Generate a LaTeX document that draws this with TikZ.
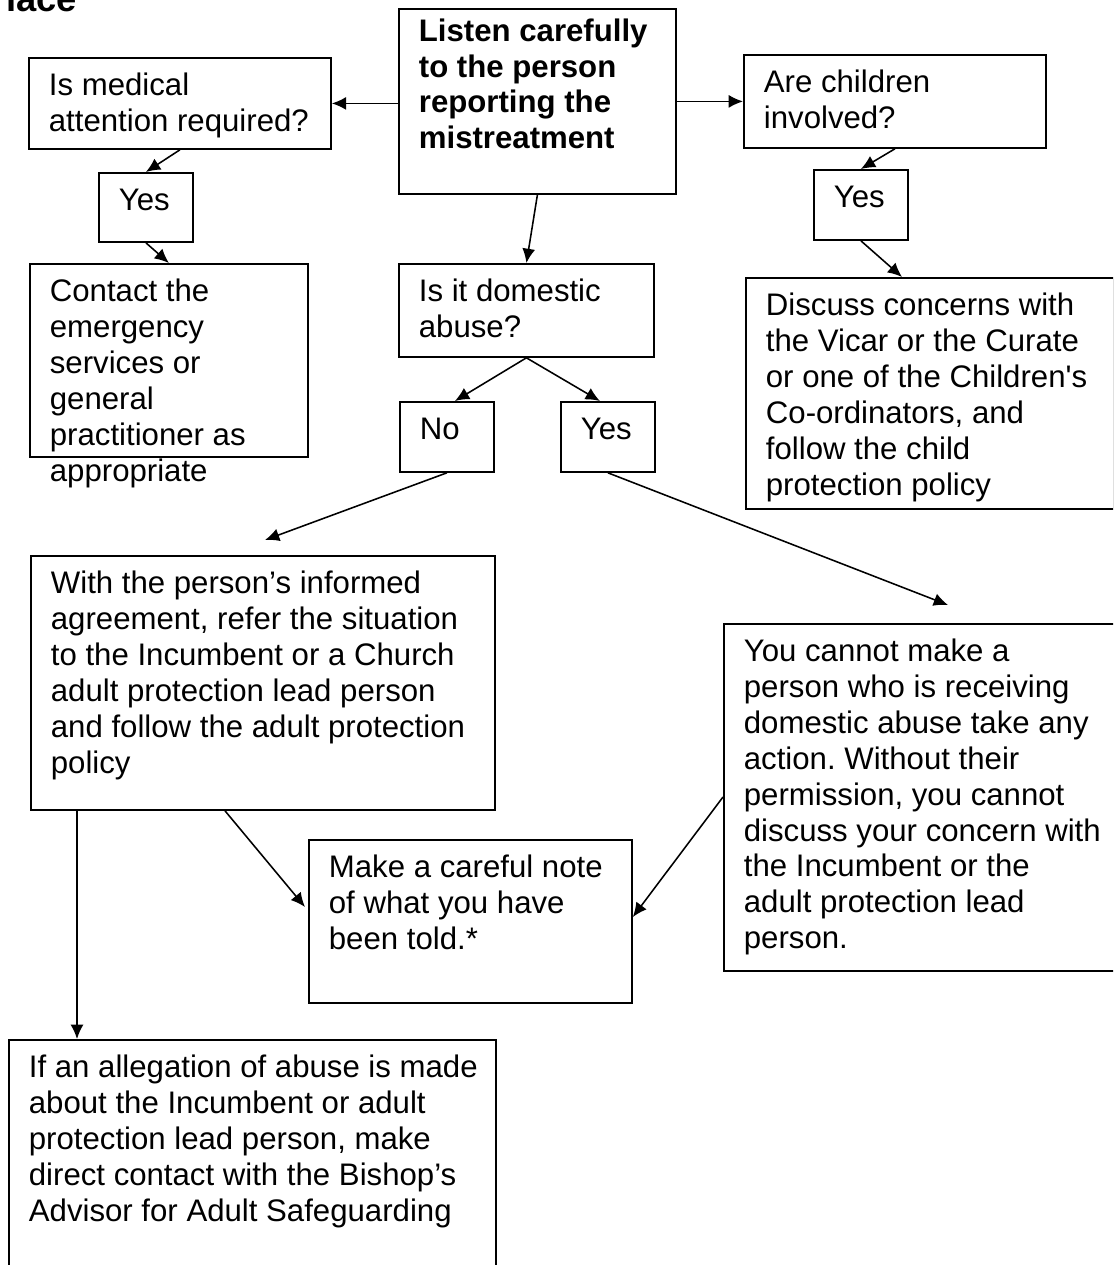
\documentclass[tikz,border=0pt]{standalone}
\usepackage{fontspec}
\setmainfont{Liberation Sans}
\usetikzlibrary{arrows.meta, calc}

\newdimen\px
\px=0.385pt
\newcommand{\boxfont}{\fontsize{12pt}{13.8pt}\selectfont}
% box text: [top gap]{width}{height}{lines}, sizes in px
\newcommand{\boxtext}[4][4.97pt]{%
  \parbox[c][#3\px][t]{#2\px}{\vspace*{#1}\hspace*{7.7pt}%
    \begin{tabular}[t]{@{}l@{}}#4\end{tabular}}}
\frenchspacing

\begin{document}
\begin{tikzpicture}[x=0.385pt, y=-0.385pt,
    box/.style={draw, line width=0.7pt, anchor=north west, inner sep=0pt, font=\boxfont},
    arrow/.style={line width=0.6pt, -{Latex[length=5.5pt,width=5pt]}}]
\useasboundingbox (0,0) rectangle (1113,1265);
\clip (0,0) rectangle (1113,1265);

\node[font=\fontsize{14pt}{16pt}\selectfont\bfseries, anchor=base west] (heading) at (-3,11) {lace};

% top row
\node[box, font=\boxfont\bfseries] (listen) at (398,8) {\boxtext[2.8pt]{277}{185}{Listen carefully\\to the person\\reporting the\\mistreatment}};
\node[box] (medical) at (28,57) {\boxtext{302}{91}{Is medical\\attention required?}};
\node[box] (children) at (743,54) {\boxtext{302}{93}{Are children\\involved?}};
\node[box] (yes1) at (98,172) {\boxtext{94}{69}{Yes}};
\node[box] (yes2) at (813,169) {\boxtext{94}{70}{Yes}};
\node[box] (contact) at (29,263) {\boxtext{278}{193}{Contact the\\emergency\\services or\\general\\practitioner as\\appropriate}};
\node[box] (domestic) at (398,263) {\boxtext{255}{93}{Is it domestic\\abuse?}};
\node[box] (discuss) at (745,277) {\boxtext{368}{231}{Discuss concerns with\\the Vicar or the Curate\\or one of the Children\textquotesingle s\\Co-ordinators, and\\follow the child\\protection policy}};
\node[box] (no) at (399,401) {\boxtext{94}{70}{No}};
\node[box] (yes3) at (560,401) {\boxtext{94}{70}{Yes}};

% lower part
\node[box] (with) at (30,555) {\boxtext{464}{254}{With the person’s informed\\agreement, refer the situation\\to the Incumbent or a Church\\adult protection lead person\\and follow the adult protection\\policy}};
\node[box] (cannot) at (723,623) {\boxtext{400}{347}{You cannot make a\\person who is receiving\\domestic abuse take any\\action. Without their\\permission, you cannot\\discuss your concern with\\the Incumbent or the\\adult protection lead\\person.}};
\node[box] (note) at (308,839) {\boxtext{323}{163}{Make a careful note\\of what you have\\been told.*}};
\node[box] (ifbox) at (8,1039) {\boxtext{487}{240}{If an allegation of abuse is made\\about the Incumbent or adult\\protection lead person, make\\direct contact with the Bishop’s\\Advisor for Adult Safeguarding}};

\coordinate (withtip) at (265,540);
\coordinate (cannottip) at (948,605);

\draw[arrow] (listen.west |- medical.east) -- (medical.east);
\draw[arrow] (listen.east |- children.west) -- (children.west);
\draw[arrow] (listen.south) -- (domestic.north);
\draw[arrow] (medical.south) -- (yes1.north);
\draw[arrow] (yes1.south) -- (contact.north);
\draw[arrow] (children.south) -- (yes2.north);
\draw[arrow] (yes2.south) -- ($(discuss.north west)+(157,0)$);
\draw[arrow] (domestic.south) -- ($(no.north)+(8,0)$);
\draw[arrow] (domestic.south) -- ($(yes3.north)+(-8,0)$);
\draw[arrow] (no.south) -- (withtip);
\draw[arrow] (yes3.south) -- (cannottip);
\draw[arrow] ($(with.south west)+(195,0)$) -- ($(note.north west)+(-3,68)$);
\draw[arrow] ($(cannot.north west)+(0,174)$) -- ($(note.north east)+(0,78)$);
\draw[arrow] ($(with.south west)+(47,0)$) -- ($(ifbox.north west)+(69,0)$);
\end{tikzpicture}
\end{document}
